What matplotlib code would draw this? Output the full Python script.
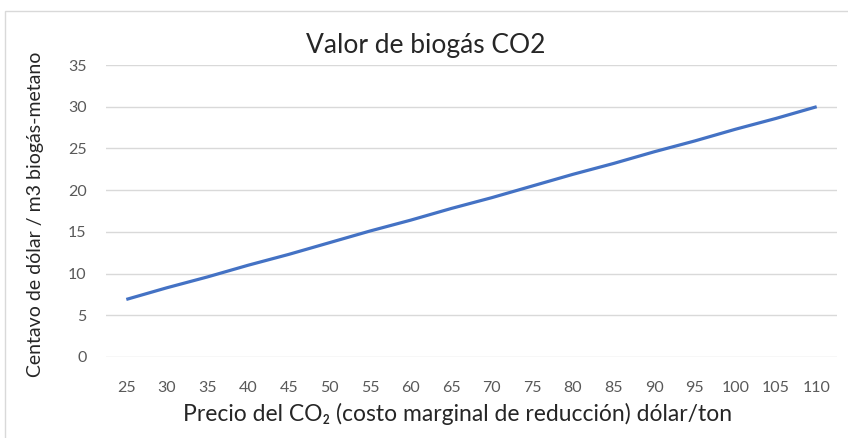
import matplotlib.pyplot as plt
from matplotlib.patches import Rectangle

precio_co2 = [25, 30, 35, 40, 45, 50, 55, 60, 65, 70, 75, 80, 85, 90, 95, 100, 105, 110]
centavos = [6.9, 8.3, 9.6, 11.0, 12.3, 13.7, 15.1, 16.4, 17.8, 19.1,
            20.5, 21.9, 23.2, 24.6, 25.9, 27.3, 28.6, 30.0]

plt.rcParams['font.family'] = ['Lato', 'DejaVu Sans']

fig = plt.figure(figsize=(8.48, 4.38), dpi=100)
fig.patches.append(Rectangle((5 / 848, -0.05), 1.0, 1 - 11 / 438 + 0.05,
                             transform=fig.transFigure, fill=False,
                             edgecolor='#d9d9d9', linewidth=1))

ax = fig.add_axes([106 / 848, 81 / 438, 731 / 848, 292 / 438])
pos = list(range(len(precio_co2)))
ax.plot(pos, centavos, color='#4472C4', linewidth=2.3, solid_capstyle='butt')

ax.set_xlim(-0.5, len(precio_co2) - 0.5)
ax.set_ylim(0, 35)
ax.set_yticks(range(0, 36, 5))
ax.set_xticks(pos)
ax.set_xticklabels([str(v) for v in precio_co2])
ax.tick_params(length=0, labelsize=11.5, labelcolor='#595959')
ax.tick_params(axis='x', pad=17)
ax.tick_params(axis='y', pad=14)
ax.grid(axis='y', color='#d9d9d9', linewidth=1)
ax.set_axisbelow(True)
for s in ax.spines.values():
    s.set_visible(False)

fig.text(458 / 848, 1 - 414 / 438,
         'Precio del CO₂ (costo marginal de reducción) dólar/ton',
         fontsize=16.5, color='#262626', ha='center', va='center')
fig.text(36 / 848, 1 - 214 / 438, 'Centavo de dólar / m3 biogás-metano',
         fontsize=14, color='#262626', ha='center', va='center', rotation=90)
fig.text(426 / 848, 1 - 45 / 438, 'Valor de biogás CO2', fontsize=19,
         color='#262626', ha='center', va='center')

fig.savefig('out.png', dpi=100)
